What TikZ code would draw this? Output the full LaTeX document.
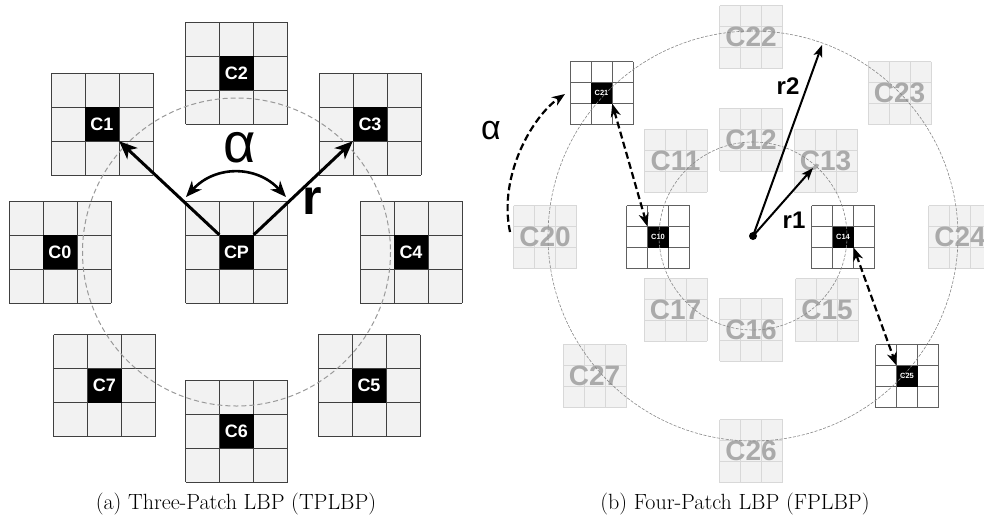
\documentclass[tikz,border=0pt]{standalone}
\usepackage{fontspec}
\setsansfont{Liberation Sans}
\usetikzlibrary{arrows.meta,calc}
\definecolor{cellfill}{HTML}{F2F2F2}
\definecolor{gridA}{HTML}{404040}
\definecolor{gridB}{HTML}{606060}
\definecolor{gridC}{HTML}{D8D8D8}
\definecolor{fadetext}{HTML}{AAAAAA}
\definecolor{circA}{HTML}{999999}
\definecolor{circB}{HTML}{888888}
\newcommand\gridpatch[5]{%
  \fill[#4] (#1-1.5*#3,#2-1.5*#3) rectangle (#1+1.5*#3,#2+1.5*#3);
  \foreach \k in {0,1,2,3}{%
    \draw[#5] (#1+\k*#3-1.5*#3,#2-1.5*#3) -- (#1+\k*#3-1.5*#3,#2+1.5*#3);
    \draw[#5] (#1-1.5*#3,#2+\k*#3-1.5*#3) -- (#1+1.5*#3,#2+\k*#3-1.5*#3);
  }%
}
\newcommand\bigpatch[4]{%
  \gridpatch{#2}{#3}{34}{fill=cellfill}{draw=gridA, line width=1pt}
  \node[bigc] (#1) at (#2,#3) {#4};
}
\newcommand\fadepatch[4]{%
  \gridpatch{#2}{#3}{21}{fill=cellfill}{draw=gridC, line width=0.8pt}
  \node[fadec] (#1) at (#2,#3) {#4};
}
\newcommand\smallpatch[4]{%
  \gridpatch{#2}{#3}{21}{fill=white}{draw=gridB, line width=0.8pt}
  \node[smallc] (#1) at (#2,#3) {#4};
}
\tikzset{
  bigc/.style={fill=black, minimum size=34pt, inner sep=0pt, text=white,
    font=\sffamily\bfseries\fontsize{18}{18}\selectfont},
  fadec/.style={inner sep=0pt, text=fadetext,
    font=\sffamily\bfseries\fontsize{28}{28}\selectfont},
  smallc/.style={fill=black, minimum size=21pt, inner sep=0pt, text=white,
    font=\sffamily\bfseries\fontsize{7.5}{7.5}\selectfont},
  bigarrow/.style={line width=3pt, -{Stealth[length=18pt,width=15pt,inset=5pt]}},
  bigdarrow/.style={line width=2.6pt, {Stealth[length=16pt,width=13pt,inset=5pt]}-{Stealth[length=16pt,width=13pt,inset=5pt]}},
  radarrow/.style={line width=2pt, -{Stealth[length=12pt,width=9pt,inset=3pt]}},
  dasharrow/.style={line width=2.2pt, dash pattern=on 7pt off 3.5pt, {Stealth[length=13pt,width=10pt,inset=4pt]}-{Stealth[length=13pt,width=10pt,inset=4pt]}},
  dashcurve/.style={line width=2.2pt, dash pattern=on 7pt off 3.5pt, -{Stealth[length=13pt,width=10pt,inset=4pt]}},
  circleA/.style={draw=circA, line width=1pt, dash pattern=on 5pt off 3pt},
  circleB/.style={draw=circB, line width=0.6pt, dash pattern=on 3pt off 1.5pt},
  caption/.style={font=\fontsize{22}{26}\selectfont},
  biglabel/.style={font=\sffamily\bfseries\fontsize{24}{24}\selectfont, inner sep=0pt},
}
\begin{document}
\begin{tikzpicture}[x=1pt,y=-1pt]
\useasboundingbox (0,0) rectangle (984,520);
% ---------- (a) TPLBP ----------
\bigpatch{c2}{236.5}{73}{C2}
\bigpatch{c1}{102}{124}{C1}
\bigpatch{c3}{370}{124}{C3}
\bigpatch{c0}{60}{252}{C0}
\bigpatch{cp}{236.5}{252}{CP}
\bigpatch{c4}{411}{252}{C4}
\bigpatch{c7}{104.5}{385.5}{C7}
\bigpatch{c6}{236.5}{431}{C6}
\bigpatch{c5}{369}{385.5}{C5}
\draw[circleA] (cp.center) circle (154);
\draw[bigarrow] (cp.north west) -- (c1.south east);
\draw[bigarrow] (cp.north east) -- (c3.south west);
\coordinate (al) at (186,197);
\coordinate (ar) at (286,197);
\draw[bigdarrow] (al) .. controls (215,165) and (257,165) .. (ar);
\node[font=\sffamily\fontsize{56}{56}\selectfont, inner sep=0pt] (alphaA) at (240,148) {α};
\node[font=\sffamily\bfseries\fontsize{50}{50}\selectfont, inner sep=0pt] (rA) at (312,201) {r};
\node[caption] (capA) at (236,504) {(a) Three-Patch LBP (TPLBP)};
% ---------- (b) FPLBP ----------
\fadepatch{c22}{751}{37}{C22}
\fadepatch{c12}{751}{139.5}{C12}
\fadepatch{c16}{751}{329.5}{C16}
\fadepatch{c26}{751}{451}{C26}
\fadepatch{c11}{675.5}{160.5}{C11}
\fadepatch{c13}{825.5}{160.5}{C13}
\fadepatch{c17}{675.5}{309.5}{C17}
\fadepatch{c15}{827}{310}{C15}
\fadepatch{c23}{899.5}{93}{C23}
\fadepatch{c27}{594.5}{376}{C27}
\fadepatch{c20}{545}{237}{C20}
\fadepatch{c24}{960}{237}{C24}
\smallpatch{c21}{601.5}{93}{C21}
\smallpatch{c25}{907}{376}{C25}
\smallpatch{c10}{658}{237}{C10}
\smallpatch{c14}{843}{237}{C14}
\node[circle, fill=black, inner sep=0pt, minimum size=8pt] (o) at (753,236) {};
\draw[circleB] (o.center) circle (94);
\draw[circleB] (o.center) circle (205);
\coordinate (r2end) at (822,45);
\coordinate (r1end) at (813,168);
\draw[radarrow] (o.center) -- (r2end);
\draw[radarrow] (o.center) -- (r1end);
\node[biglabel] (r2) at (788,86) {r2};
\node[biglabel] (r1) at (794,220) {r1};
\draw[dasharrow] (c21.south east) -- (c10.north west);
\draw[dasharrow] (c14.south east) -- (c25.north west);
\coordinate (as) at (510,232);
\coordinate (ae) at (565,94);
\draw[dashcurve] (as) .. controls (498,175) and (533,116) .. (ae);
\node[font=\sffamily\fontsize{34}{34}\selectfont, inner sep=0pt] (alphaB) at (491,131) {α};
\node[caption] (capB) at (735,504) {(b) Four-Patch LBP (FPLBP)};
\end{tikzpicture}
\end{document}
